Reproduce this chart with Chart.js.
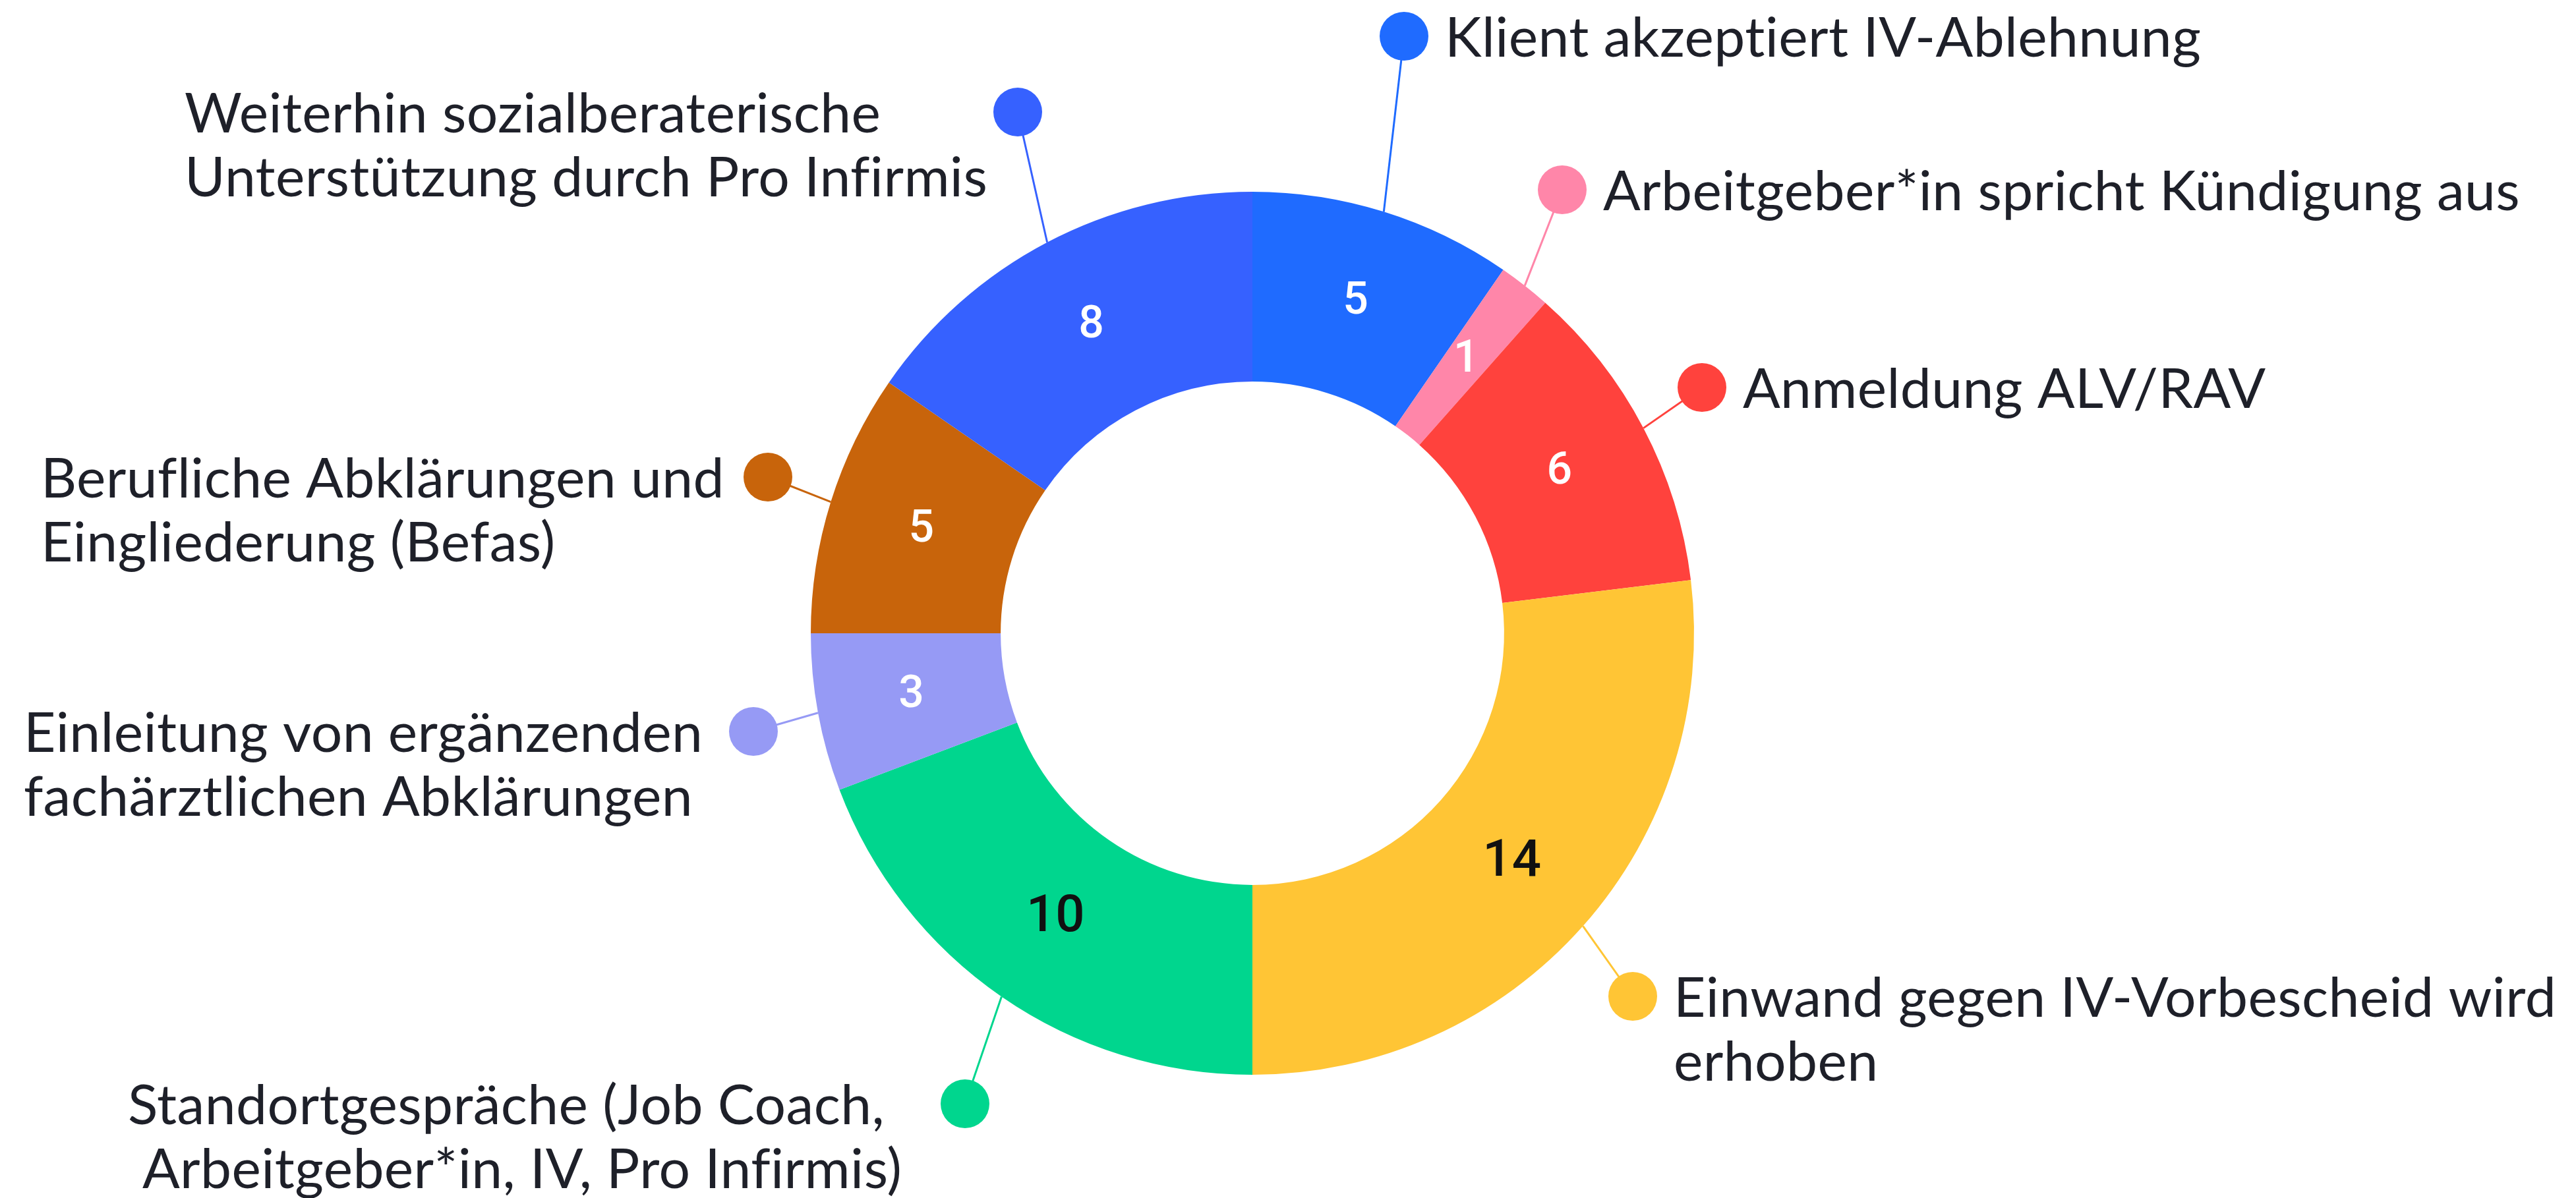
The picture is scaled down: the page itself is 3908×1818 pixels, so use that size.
<!DOCTYPE html>
<html>
<head>
<meta charset="utf-8">
<script src="https://cdn.jsdelivr.net/npm/chart.js@4/dist/chart.umd.min.js"></script>
<style>
  html, body { margin: 0; padding: 0; background: #fff; }
  #wrap { width: 3908px; height: 1818px; }
</style>
</head>
<body>
<div id="wrap"><canvas id="chart" width="3908" height="1818"></canvas></div>
<script>
// Daten
const categories = [
    ['Klient akzeptiert IV-Ablehnung'],
    ['Arbeitgeber*in spricht Kündigung aus'],
    ['Anmeldung ALV/RAV'],
    ['Einwand gegen IV-Vorbescheid wird', 'erhoben'],
    ['Standortgespräche (Job Coach,', ' Arbeitgeber*in, IV, Pro Infirmis)'],
    ['Einleitung von ergänzenden', 'fachärztlichen Abklärungen'],
    ['Berufliche Abklärungen und', 'Eingliederung (Befas)'],
    ['Weiterhin sozialberaterische', 'Unterstützung durch Pro Infirmis']
];
const values = [5, 1, 6, 14, 10, 3, 5, 8];

// Farben
const sliceColors = ['#1f6bff', '#ff86a9', '#ff423d', '#ffc535', '#00d68e', '#969af5', '#c8640b', '#3661ff'];
const numberColors = ['#fff', '#fff', '#fff', '#111', '#111', '#fff', '#fff', '#fff'];
const numberSizes = [68, 68, 68, 78, 78, 68, 68, 68];

// Position der Beschriftungspunkte und Textanfang (Layout)
const dotPos = [
    [2130, 55], [2370, 288], [2582, 588], [2477, 1512],
    [1464, 1675], [1143, 1110], [1165, 724], [1544, 170]
];
// linke Beschriftungen: fester linker Rand des Textblocks
const textLeft = [null, null, null, null, 194, 36, 62, 280];

const labelFont = '84px Lato';
const numberFamily = 'Roboto, "Liberation Sans", sans-serif';
const lineHeight = 97;

// Plugin: Werte im Ring, Linien, Punkte und Beschriftungen
const calloutPlugin = {
    id: 'callouts',
    afterDatasetsDraw(chart) {
        const ctx = chart.ctx;
        const arcs = chart.getDatasetMeta(0).data;
        arcs.forEach((arc, i) => {
            const p = arc.getProps(['x', 'y', 'startAngle', 'endAngle', 'innerRadius', 'outerRadius'], true);
            const mid = (p.startAngle + p.endAngle) / 2;
            const rMid = (p.innerRadius + p.outerRadius) / 2;

            // Leitlinie
            const ox = p.x + Math.cos(mid) * p.outerRadius;
            const oy = p.y + Math.sin(mid) * p.outerRadius;
            const [dx, dy] = dotPos[i];
            ctx.save();
            ctx.strokeStyle = sliceColors[i];
            ctx.lineWidth = 3;
            ctx.beginPath();
            ctx.moveTo(ox, oy);
            ctx.lineTo(dx, dy);
            ctx.stroke();

            // Punkt
            ctx.fillStyle = sliceColors[i];
            ctx.beginPath();
            ctx.arc(dx, dy, 37, 0, Math.PI * 2);
            ctx.fill();

            // Text
            ctx.font = labelFont;
            ctx.letterSpacing = '0.4px';
            ctx.fillStyle = '#1e2029';
            ctx.textBaseline = 'alphabetic';
            ctx.textAlign = 'left';
            const tx = textLeft[i] !== null ? textLeft[i] : dx + 62;
            categories[i].forEach((l, k) => ctx.fillText(l, tx, dy + 31 + k * lineHeight));

            // Wert
            ctx.letterSpacing = '0px';
            ctx.font = '500 ' + numberSizes[i] + 'px ' + numberFamily;
            ctx.fillStyle = numberColors[i];
            ctx.textAlign = 'center';
            ctx.textBaseline = 'middle';
            ctx.fillText(String(values[i]), p.x + Math.cos(mid) * rMid, p.y + Math.sin(mid) * rMid);
            ctx.restore();
        });
    }
};

function createChart() {
    const ctx = document.getElementById('chart').getContext('2d');
    new Chart(ctx, {
        type: 'doughnut',
        data: {
            labels: categories,
            datasets: [{
                data: values,
                backgroundColor: sliceColors,
                borderWidth: 0
            }]
        },
        options: {
            responsive: false,
            animation: false,
            cutout: '57%',
            layout: { padding: { left: 0, right: 108, top: 291, bottom: 187 } },
            plugins: {
                legend: { display: false },
                tooltip: { enabled: false }
            }
        },
        plugins: [calloutPlugin]
    });
}

document.fonts.load(labelFont)
    .then(() => document.fonts.load('500 78px Roboto'))
    .finally(createChart);
</script>
</body>
</html>
